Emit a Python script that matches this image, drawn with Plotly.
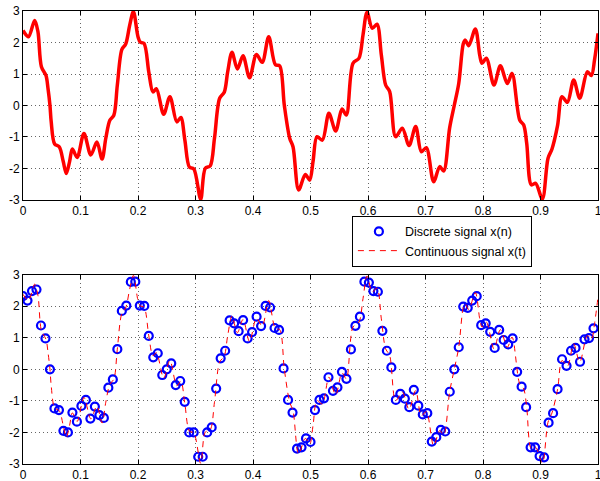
import plotly.graph_objects as go

fs = 128
n_idx = list(range(128))
x_n = [
    2.32, 2.18, 2.48, 2.53, 1.39, 0.98, 0.00, -1.24, -1.29, -1.95,
    -2.00, -1.37, -1.66, -1.16, -0.97, -1.56, -1.18, -1.45, -1.54, -0.58,
    -0.32, 0.64, 1.85, 2.02, 2.77, 2.78, 2.02, 2.01, 1.06, 0.38,
    0.51, -0.18, 0.00, 0.19, -0.50, -0.37, -1.03, -2.00, -2.00, -2.77,
    -2.77, -2.00, -1.84, -0.61, 0.35, 0.59, 1.55, 1.46, 1.21, 1.56,
    0.98, 1.18, 1.67, 1.37, 2.01, 1.96, 1.31, 1.25, 0.03, -0.97,
    -1.37, -2.51, -2.47, -2.19, -2.30, -1.29, -0.97, -0.92, -0.25, -0.68,
    -0.57, -0.08, -0.30, 0.63, 1.38, 1.67, 2.78, 2.75, 2.48, 2.46,
    1.22, 0.59, 0.06, -0.97, -0.78, -0.93, -1.20, -0.65, -1.15, -1.43,
    -1.39, -2.29, -2.15, -1.92, -1.97, -0.71, 0.00, 0.70, 1.99, 1.95,
    2.18, 2.32, 1.40, 1.46, 1.19, 0.68, 1.25, 0.93, 0.79, 0.98,
    -0.08, -0.55, -1.20, -2.47, -2.47, -2.75, -2.79, -1.69, -1.39, -0.63,
    0.32, 0.11, 0.59, 0.68, 0.24, 0.95, 0.99, 1.30,
]
t_n = [k / fs for k in n_idx]

# Continuous signal x(t), read at its turning points and bends
t_c = [
    0.000, 0.0095, 0.0203, 0.026, 0.032, 0.040, 0.0435, 0.0469, 0.049, 0.055,
    0.063, 0.070, 0.0752, 0.081, 0.0858, 0.0942, 0.106, 0.118, 0.1285, 0.1375,
    0.144, 0.151, 0.158, 0.164, 0.172, 0.1786, 0.1856, 0.192, 0.200, 0.204,
    0.2105, 0.2188, 0.226, 0.232, 0.2447, 0.2555, 0.2675, 0.2745, 0.2815, 0.2895,
    0.297, 0.309, 0.317, 0.3255, 0.333, 0.342, 0.350, 0.356, 0.3635, 0.3728,
    0.3826, 0.394, 0.406, 0.416, 0.4273, 0.439, 0.4464, 0.4545, 0.4638, 0.4696,
    0.4794, 0.491, 0.4986, 0.5044, 0.5113, 0.5206, 0.532, 0.5438, 0.5548, 0.5623,
    0.5739, 0.5843, 0.5913, 0.5983, 0.6075, 0.6156, 0.6232, 0.6307, 0.6377, 0.6481,
    0.6597, 0.6713, 0.6829, 0.6928, 0.7014, 0.7142, 0.7247, 0.7316, 0.742, 0.750,
    0.7578, 0.7656, 0.7690, 0.7751, 0.7867, 0.7943, 0.7983, 0.8058, 0.8191, 0.8302,
    0.8423, 0.8505, 0.8638, 0.8708, 0.8760, 0.8841, 0.8916, 0.9032, 0.913, 0.920,
    0.9297, 0.9374, 0.9468, 0.9577, 0.9682, 0.9815, 0.9885, 0.9940, 1.000,
]
x_c = [
    2.38, 2.18, 2.70, 2.34, 1.23, 0.95, 0.54, 0.00, -0.51, -1.22,
    -1.31, -1.78, -2.16, -1.78, -1.38, -1.65, -0.89, -1.57, -1.16, -1.70,
    -1.04, -0.47, -0.31, 0.64, 1.78, 1.95, 2.55, 2.98, 2.18, 2.01,
    1.97, 1.06, 0.43, 0.53, -0.28, 0.28, -0.52, -0.38, -1.10, -1.96,
    -2.01, -2.98, -1.99, -1.92, -1.04, 0.23, 0.42, 1.07, 1.69, 1.16,
    1.58, 0.88, 1.62, 1.37, 2.18, 1.29, 1.26, 0.00, -1.04, -1.31,
    -2.68, -2.19, -2.37, -1.78, -0.99, -1.10, -0.25, -0.81, -0.11, -0.30,
    1.34, 1.50, 2.24, 2.96, 2.45, 2.58, 1.60, 0.65, 0.44, -0.99,
    -0.72, -1.27, -0.67, -1.47, -1.34, -2.42, -1.94, -2.08, -0.71, 0.00,
    0.70, 1.95, 2.08, 1.90, 2.43, 1.60, 1.34, 1.50, 0.65, 1.26,
    0.70, 1.02, -0.46, -0.62, -1.20, -2.52, -2.47, -2.97, -1.68, -1.38,
    -0.63, 0.28, 0.10, 0.81, 0.23, 1.07, 0.95, 1.45, 2.29,
]

x_ticks = [0, 0.1, 0.2, 0.3, 0.4, 0.5, 0.6, 0.7, 0.8, 0.9, 1]
x_ticklabels = ["0", "0.1", "0.2", "0.3", "0.4", "0.5", "0.6", "0.7", "0.8", "0.9", "1"]
y_ticks = [-3, -2, -1, 0, 1, 2, 3]
y_ticklabels = ["-3", "-2", "-1", "0", "1", "2", "3"]

RED = "#ff0000"
BLUE = "#0000ff"
FONT = "Liberation Sans, Arial, sans-serif"

fig = go.Figure()

fig.add_trace(go.Scatter(
    x=t_c, y=x_c, mode="lines", line=dict(color=RED, width=3.5, shape="spline", smoothing=0.9),
    showlegend=False, xaxis="x", yaxis="y", hoverinfo="skip",
))
fig.add_trace(go.Scatter(
    x=t_n, y=x_n, mode="markers", name="Discrete signal x(n)",
    marker=dict(symbol="circle-open", size=8, color=BLUE, line=dict(width=2.2, color=BLUE)),
    xaxis="x2", yaxis="y2",
))
fig.add_trace(go.Scatter(
    x=t_c, y=x_c, mode="lines", name="Continuous signal x(t)",
    line=dict(color=RED, width=1, dash="6px,5px", shape="spline", smoothing=0.9),
    xaxis="x2", yaxis="y2",
))

grid = dict(showgrid=True, gridcolor="#666666", griddash="1px,3px", gridwidth=1)
axis_common = dict(
    range=[0, 1], tickvals=x_ticks, ticktext=x_ticklabels,
    showline=True, linecolor="black", linewidth=1, mirror="ticks",
    ticks="inside", ticklen=4, tickcolor="black", automargin=False,
    ticklabeloverflow="allow",
    zeroline=False, tickfont=dict(family=FONT, size=12, color="black"),
    **grid,
)
yaxis_common = dict(
    range=[-3, 3], tickvals=y_ticks, ticktext=y_ticklabels,
    showline=True, linecolor="black", linewidth=1, mirror="ticks",
    ticks="inside", ticklen=4, tickcolor="black", automargin=False,
    ticklabeloverflow="allow",
    zeroline=False, tickfont=dict(family=FONT, size=12, color="black"),
    **grid,
)

fig.update_layout(
    width=600, height=481,
    margin=dict(l=23, r=2, t=11, b=17, autoexpand=False),
    paper_bgcolor="white", plot_bgcolor="white",
    xaxis=dict(domain=[0, 1], anchor="y", **axis_common),
    yaxis=dict(domain=[0.5828, 1.0], anchor="x", **yaxis_common),
    xaxis2=dict(domain=[0, 1], anchor="y2", **axis_common),
    yaxis2=dict(domain=[0.0, 0.4179], anchor="x2", **yaxis_common),
    legend=dict(
        x=0.572, y=0.548, xanchor="left", yanchor="top",
        bgcolor="white", bordercolor="black", borderwidth=1,
        font=dict(family=FONT, size=12.5, color="black"),
        tracegroupgap=0, itemwidth=42,
    ),
    font=dict(family=FONT),
)

# Remove the default page margin so the 600x481 figure fills the window exactly.
fig.write_html(
    "out.html",
    config={"displayModeBar": False},
    post_script="document.body.style.margin='0px';document.body.style.overflow='hidden';",
)
